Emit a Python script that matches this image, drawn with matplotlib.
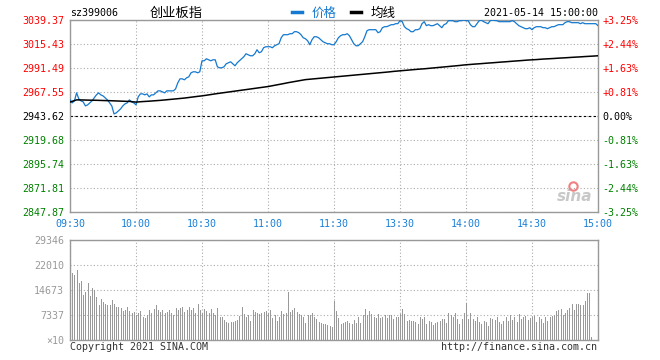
import numpy as np
import matplotlib
matplotlib.use('Agg')
import matplotlib.pyplot as plt

# ---------------- data ----------------
title_code = 'sz399006'
title_name = '创业板指'
date_text = '2021-05-14 15:00:00'
series_names = ['价格', '均线']
prev_close = 2943.62

price_levels = [3039.37, 3015.43, 2991.49, 2967.55, 2943.62, 2919.68, 2895.74, 2871.81, 2847.87]
pct_labels = ['+3.25%', '+2.44%', '+1.63%', '+0.81%', '0.00%', '-0.81%', '-1.63%', '-2.44%', '-3.25%']
time_labels = ['09:30', '10:00', '10:30', '11:00', '11:30', '13:30', '14:00', '14:30', '15:00']
time_label_minutes = [0, 30, 60, 90, 120, 150, 180, 210, 240]
vol_levels = [0, 7337, 14673, 22010, 29346]
vol_labels = ['×10', '7337', '14673', '22010', '29346']

price = [
    2959.7, 2956.7, 2958.7, 2966.7, 2960.7, 2958.7, 2957.7, 2953.7, 2954.7, 2956.7,
    2958.7, 2961.7, 2964.7, 2966.7, 2964.7, 2963.7, 2961.7, 2959.7, 2956.7, 2953.7,
    2945.7, 2946.7, 2948.7, 2950.7, 2953.7, 2955.7, 2956.7, 2959.7, 2957.7, 2956.7,
    2954.7, 2962.7, 2965.7, 2965.7, 2964.7, 2965.7, 2962.7, 2964.7, 2964.7, 2966.7,
    2968.7, 2968.7, 2967.7, 2966.7, 2968.7, 2968.7, 2968.7, 2968.7, 2970.7, 2976.7,
    2980.7, 2980.7, 2979.7, 2981.7, 2982.7, 2986.7, 2987.7, 2987.7, 2986.7, 2987.7,
    2998.7,
    2998.7, 3000.7, 2999.7, 2998.7, 2999.7, 2999.7, 2992.7, 2991.7, 2991.7, 2992.7,
    2995.7, 2996.7, 2997.7, 2995.7, 2993.7, 2996.7, 2998.7, 3000.7, 3002.7, 3005.7,
    3004.7, 3003.7, 3003.7, 3005.7, 3009.7, 3006.7, 3007.7, 3011.7, 3012.7, 3012.7,
    3012.7, 3011.7, 3013.7, 3014.7, 3015.7, 3021.7, 3024.7, 3024.7, 3024.7, 3025.7,
    3025.7, 3027.7, 3027.7, 3026.7, 3024.7, 3021.7, 3020.7, 3018.7, 3014.7, 3019.7,
    3022.7, 3022.7, 3021.7, 3019.7, 3017.7, 3016.7, 3015.7, 3015.7, 3014.7, 3014.7,
    3017.7, 3021.7, 3023.7, 3024.7, 3024.7, 3025.7, 3023.7, 3019.7, 3015.7, 3013.7,
    3013.7, 3015.7, 3017.7, 3022.7, 3028.7, 3029.7, 3029.7, 3029.7, 3029.7, 3026.7,
    3027.7, 3031.7, 3032.7, 3032.7, 3033.7, 3034.7, 3034.7, 3035.7, 3035.7, 3038.7,
    3037.7, 3032.7, 3030.7, 3029.7, 3027.7, 3027.7, 3029.7, 3029.7, 3030.7, 3035.7,
    3037.7, 3033.7, 3034.7, 3033.7, 3033.7, 3034.7, 3035.7, 3033.7, 3031.7, 3034.7,
    3035.7, 3038.7, 3038.7, 3038.7, 3037.7, 3037.7, 3038.7, 3038.7, 3039.37, 3038.7,
    3038.7, 3034.7, 3032.7, 3032.7, 3035.7, 3038.7, 3039.2, 3037.7, 3036.7, 3035.7,
    3038.7, 3039.2, 3039.0, 3038.7, 3037.7, 3037.7, 3037.7, 3037.7, 3037.7, 3037.7,
    3038.7, 3037.7, 3035.7, 3033.7, 3032.7, 3031.7, 3030.7, 3030.7, 3031.7, 3029.7,
    3031.7, 3032.7, 3032.7, 3032.7, 3031.7, 3031.7, 3030.7, 3031.7, 3032.7, 3032.7,
    3033.7, 3034.7, 3034.7, 3034.7, 3036.7, 3037.7, 3037.7, 3036.7, 3036.7, 3036.7,
    3036.7, 3035.7, 3036.7, 3035.7, 3035.7, 3035.7, 3035.7, 3035.7, 3035.7, 3033.7,
]

avg_price = [
    2957.5, 2958.2, 2959.0, 2959.7, 2959.7, 2959.6, 2959.6, 2959.5, 2959.5, 2959.4,
    2959.4, 2959.3, 2959.3, 2959.2, 2959.2, 2959.1, 2959.0, 2959.0, 2958.9, 2958.8,
    2958.6, 2958.5, 2958.4, 2958.3, 2958.3, 2958.2, 2958.2, 2958.2, 2957.9, 2957.7,
    2957.5,
    2957.7, 2957.8, 2958.0, 2958.1, 2958.3, 2958.4, 2958.6, 2958.7,
    2958.9, 2959.0, 2959.2, 2959.4, 2959.5, 2959.7,
    2959.9, 2960.1, 2960.3, 2960.5, 2960.7,
    2961.0, 2961.2, 2961.5, 2961.8, 2962.1, 2962.3, 2962.6, 2962.9, 2963.2, 2963.4, 2963.7,
    2964.0, 2964.4, 2964.7, 2965.0, 2965.4, 2965.7, 2966.0, 2966.4,
    2966.7, 2967.0, 2967.3, 2967.6, 2967.9, 2968.2, 2968.5, 2968.8, 2969.1, 2969.4, 2969.7,
    2970.0, 2970.3, 2970.6, 2970.9, 2971.2, 2971.5, 2971.8, 2972.1, 2972.4, 2972.7, 2973.0,
    2973.4, 2973.8, 2974.3, 2974.7, 2975.1, 2975.5, 2975.9, 2976.4, 2976.8, 2977.2, 2977.6,
    2978.0, 2978.5, 2978.9, 2979.3, 2979.7,
    2979.9, 2980.1, 2980.3, 2980.5, 2980.7, 2980.9, 2981.0, 2981.2, 2981.4, 2981.6, 2981.8,
    2982.0, 2982.2, 2982.4,
    2982.6, 2982.8, 2983.0, 2983.2, 2983.4, 2983.7, 2983.9, 2984.1, 2984.3, 2984.5,
    2984.7, 2984.9, 2985.1, 2985.3, 2985.5, 2985.8, 2986.0, 2986.2, 2986.4, 2986.6,
    2986.8, 2987.0, 2987.2, 2987.4, 2987.6, 2987.9, 2988.1, 2988.3, 2988.5, 2988.7,
    2988.9, 2989.1, 2989.2, 2989.4, 2989.6, 2989.8, 2990.0, 2990.2, 2990.4, 2990.5,
    2990.7, 2990.9, 2991.1, 2991.3, 2991.5, 2991.6, 2991.8, 2992.0,
    2992.2, 2992.5, 2992.7, 2992.9, 2993.1, 2993.4, 2993.6, 2993.8, 2994.0, 2994.3, 2994.5, 2994.7,
    2994.9, 2995.0, 2995.2, 2995.4, 2995.5, 2995.7, 2995.9, 2996.0, 2996.2, 2996.4,
    2996.5, 2996.7, 2996.9, 2997.0, 2997.2, 2997.4, 2997.5, 2997.7, 2997.9, 2998.0,
    2998.2, 2998.4, 2998.5, 2998.7, 2998.9, 2999.0, 2999.2, 2999.4, 2999.5, 2999.7,
    2999.8, 2999.9, 3000.1, 3000.2, 3000.4, 3000.5, 3000.6, 3000.8, 3000.9, 3001.0,
    3001.2, 3001.3, 3001.4, 3001.6, 3001.7, 3001.8, 3002.0, 3002.1, 3002.2, 3002.4,
    3002.5, 3002.6, 3002.8, 3002.9, 3003.0, 3003.2, 3003.3, 3003.4, 3003.6, 3003.7,
]

volume = [
    29346,
    19760, 19080, 20550, 16830, 17420, 13210, 14190, 16830, 12920, 15170,
    14680, 12720, 10270, 11940, 11250, 10570, 10270, 10270, 11740, 10570,
    9780, 9590, 9300, 8610, 8810, 9590, 8610, 7830, 8120, 7340,
    7830, 8510, 6850, 6360, 7340, 8810, 8020, 9000,
    10270,
    8810, 8320, 8810, 8020, 8320, 8810, 7830, 7340, 9300, 8810, 9490, 9590, 8320, 8810,
    9590, 8810, 9300, 8020,
    10570,
    8810, 7830, 9100, 8510, 8020, 9000, 7830, 7340, 9300,
    6650, 6650, 5870, 5380, 4890,
    5380, 5380, 5680, 5870, 7050, 9590, 7630, 6650, 7340, 5680, 8810, 8320, 7830, 7630,
    8020, 8320, 8610, 8020, 8810, 6360,
    7340, 5680, 6650, 8610, 7630, 8020, 14190, 8320, 8810, 9300, 8320, 7630, 7340, 6650,
    5090, 7340, 7340, 7830, 6650, 6070, 5380, 4890, 4700, 4700, 4400, 4110, 3910,
    11540, 8610, 6360, 4700, 5090, 5380,
    5680, 5090, 4700, 5870, 5090, 6650, 4890, 7340, 9100, 7340, 8610, 7630, 6850,
    6360, 7630, 6360, 6850, 7340, 6360, 7340, 7340, 6070, 6650, 6650, 7630, 9100, 7630,
    5680, 5870,
    5680, 5680, 5380, 4700, 6650, 6070, 6650, 4700, 5680, 5380, 4400,
    4890, 5280,
    5680, 6070, 6070, 5090, 7830, 7340, 6650, 8020, 6070, 4700, 6070, 7830,
    10960, 6070, 7830, 6070, 5680, 6650,
    5380, 4700, 5680, 5380, 4110, 6360, 6070, 5870, 6650, 5380, 4700, 5680, 6650, 5680,
    7340, 5870, 6650, 5380, 7530, 6070, 6650, 7050, 5870, 6360, 6650,
    7050, 5380, 6650, 6070, 5090, 6850, 5680, 6650, 7050,
    7340, 8610, 8810, 9100, 7340, 8020, 8810, 9300, 10570, 8810, 10570, 10570, 10270,
    10270, 11540, 13700, 13890, 980,
    0, 0, 0,
]

if not (len(price) == len(avg_price) == len(volume) == 241):
    raise SystemExit(f'lengths {len(price)} {len(avg_price)} {len(volume)}')

# ---------------- style ----------------
W, H = 660, 360
BLUE = '#1479cf'
LABEL_BLUE = '#1a80d6'
RED = '#ff0000'
GREEN = '#008000'
GRID = '#aaaaaa'
SPINE = '#999999'
MONO = 'DejaVu Sans Mono'
CJK = ['Noto Sans CJK SC', 'DejaVu Sans']
FS = 7.2

fig = plt.figure(figsize=(W / 100, H / 100), dpi=100)
fig.patch.set_facecolor('white')

def fy(py):
    return 1 - py / H

ax = fig.add_axes([70 / W, fy(212), 528 / W, 192 / H])
axv = fig.add_axes([70 / W, fy(340), 528 / W, 100 / H])

minutes = np.arange(len(price))

def level_color(v):
    if abs(v - prev_close) < 1e-6:
        return 'black'
    return RED if v > prev_close else GREEN

# main price chart
l_price, = ax.plot(minutes, price, color=BLUE, lw=0.9, label=series_names[0], zorder=3)
l_avg, = ax.plot(minutes, avg_price, color='black', lw=1.1, label=series_names[1], zorder=3)
ax.axhline(prev_close, color='black', ls=(0, (2.2, 2.2)), lw=0.8, zorder=2)
ax.set_xlim(0, 240)
ax.set_ylim(price_levels[-1], price_levels[0])
ax.set_yticks(price_levels)
ax.set_yticklabels([f'{v:.2f}' for v in price_levels], fontfamily=MONO, fontsize=FS)
for lab, v in zip(ax.get_yticklabels(), price_levels):
    lab.set_color(level_color(v))
ax.set_xticks(time_label_minutes)
ax.set_xticklabels(time_labels, fontfamily=MONO, fontsize=FS, color=LABEL_BLUE)
ax.tick_params(axis='both', length=0)
ax.tick_params(axis='y', pad=4.3)
ax.tick_params(axis='x', pad=5)
ax.grid(True, color=GRID, linestyle=(0, (1, 2)), linewidth=0.8, zorder=1)
for s in ax.spines.values():
    s.set_color(SPINE)
    s.set_linewidth(1.0)

ax2 = ax.twinx()
ax2.set_ylim(ax.get_ylim())
ax2.set_yticks(price_levels)
ax2.set_yticklabels(pct_labels, fontfamily=MONO, fontsize=FS)
for lab, v in zip(ax2.get_yticklabels(), price_levels):
    lab.set_color(level_color(v))
ax2.tick_params(axis='y', length=0, pad=3)
for s in ax2.spines.values():
    s.set_visible(False)

# sina watermark
ax.text(0.955, 0.08, 'sina', transform=ax.transAxes, ha='center', va='center',
        fontsize=11, fontstyle='italic', fontweight='bold', color='#c8c8c8', zorder=0)
ax.plot([0.952], [0.135], transform=ax.transAxes, marker='o', ms=6, mfc='none',
        mec='#f08080', mew=1.5, zorder=0)

# volume chart
axv.vlines(minutes, 0, volume, color='#999999', lw=0.72, antialiased=False, zorder=2)
axv.set_xlim(0, 240)
axv.set_ylim(vol_levels[0], vol_levels[-1])
axv.set_yticks(vol_levels)
axv.set_yticklabels(vol_labels, fontfamily=MONO, fontsize=FS, color='#999999')
axv.set_xticks(time_label_minutes)
axv.set_xticklabels([])
axv.tick_params(axis='both', length=0)
axv.tick_params(axis='y', pad=4.3)
axv.grid(True, color=GRID, linestyle=(0, (1, 2)), linewidth=0.8, zorder=1)
for s in axv.spines.values():
    s.set_color(SPINE)
    s.set_linewidth(1.0)

# header texts
fig.text(70 / W, fy(13), title_code, ha='left', va='center', fontfamily=MONO, fontsize=FS, color='black')
fig.text(176 / W, fy(13), title_name, ha='center', va='center', family=CJK, fontsize=9.5, color='black')
fig.text(598 / W, fy(13), date_text, ha='right', va='center', fontfamily=MONO, fontsize=FS, color='black')

leg = fig.legend([l_price, l_avg], series_names, loc='center left', bbox_to_anchor=(292 / W, fy(13)),
                 ncol=2, frameon=False, prop={'family': CJK, 'size': 9},
                 handlelength=0.8, handletextpad=0.8, columnspacing=1.1,
                 borderpad=0, borderaxespad=0)
for h in leg.legend_handles:
    h.set_linewidth(2.5)
for t, c in zip(leg.get_texts(), [BLUE, 'black']):
    t.set_color(c)

# footer texts
fig.text(70 / W, fy(347), 'Copyright 2021 SINA.COM', ha='left', va='center', fontfamily=MONO, fontsize=FS, color='#333333')
fig.text(597 / W, fy(347), 'http://finance.sina.com.cn', ha='right', va='center', fontfamily=MONO, fontsize=FS, color='#333333')

fig.savefig('out.png', dpi=100, facecolor='white')
